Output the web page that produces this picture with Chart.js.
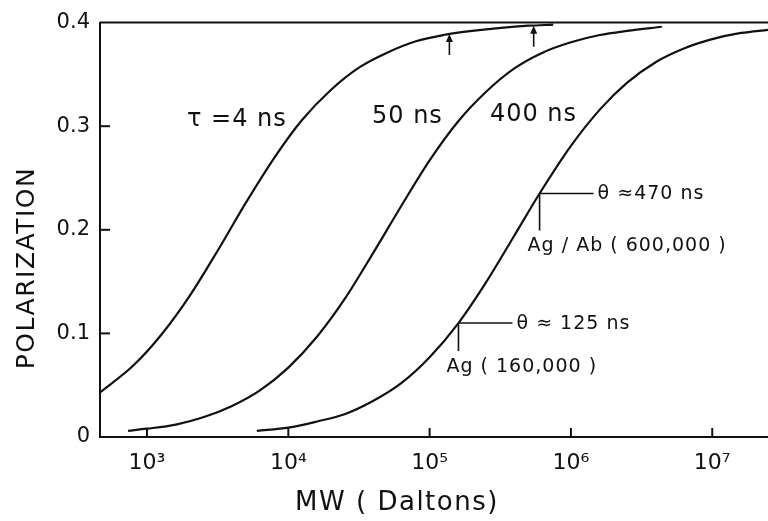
<!DOCTYPE html>
<html>
<head>
<meta charset="utf-8">
<script src="https://cdn.jsdelivr.net/npm/chart.js@4.4.1/dist/chart.umd.min.js"></script>
<style>
  html, body { margin: 0; padding: 0; background: #fff; }
  #wrap { width: 768px; height: 521px; }
</style>
</head>
<body>
<div id="wrap"><canvas id="graph"></canvas></div>
<script>
// Polarization vs molecular weight for three fluorescence lifetimes
const mwTau4 = [465, 800, 1250, 2000, 3200, 5000, 8000, 12500, 20000, 32000, 50000, 80000, 125000, 200000, 320000, 500000, 750000];
const polTau4 = [0.043, 0.069, 0.098, 0.136, 0.181, 0.226, 0.270, 0.306, 0.335, 0.357, 0.371, 0.382, 0.388, 0.392, 0.395, 0.397, 0.398];

const mwTau50 = [735, 1000, 1600, 2500, 4000, 6300, 10000, 16000, 25000, 40000, 63000, 100000, 160000, 250000, 400000, 630000, 1000000, 1600000, 2500000, 4400000];
const polTau50 = [0.006, 0.008, 0.012, 0.019, 0.030, 0.045, 0.067, 0.097, 0.133, 0.178, 0.223, 0.267, 0.305, 0.333, 0.356, 0.371, 0.381, 0.388, 0.392, 0.396];

const mwTau400 = [5990, 10000, 16000, 25000, 40000, 63000, 100000, 160000, 250000, 400000, 600000, 1000000, 1600000, 2500000, 4000000, 6300000, 10000000, 16000000, 24800000];
const polTau400 = [0.006, 0.009, 0.015, 0.022, 0.035, 0.052, 0.077, 0.110, 0.149, 0.195, 0.235, 0.281, 0.316, 0.342, 0.362, 0.375, 0.384, 0.390, 0.393];

const curveNames = ['τ =4 ns', '50 ns', '400 ns'];

// Ag and Ag/Ab complexes on the 400 ns curve
const markerMW = [160000, 600000];
const markerPol = [0.110, 0.235];
const markerRot = ['θ ≈ 125 ns', 'θ ≈470 ns'];
const markerName = ['Ag ( 160,000 )', 'Ag / Ab ( 600,000 )'];

// arrows on the 4 ns curve
const arrowMW = [138000, 545000];
const arrowPol = [0.389, 0.397];

const decades = [1e3, 1e4, 1e5, 1e6, 1e7];
const decadeLabels = ['10³', '10⁴', '10⁵', '10⁶', '10⁷'];
const polTicks = [0, 0.1, 0.2, 0.3, 0.4];

const ink = '#111';
const FONT = '"DejaVu Sans", sans-serif';

function pairs(xs, ys) {
  return xs.map((v, i) => ({ x: v, y: ys[i] }));
}

function curve(label, xs, ys) {
  return {
    label: label,
    data: pairs(xs, ys),
    showLine: true,
    borderColor: ink,
    borderWidth: 2.2,
    pointRadius: 0,
    cubicInterpolationMode: 'monotone',
    fill: false,
  };
}

function seg(ctx, x1, y1, x2, y2) {
  ctx.beginPath();
  ctx.moveTo(x1, y1);
  ctx.lineTo(x2, y2);
  ctx.stroke();
}

function text(ctx, str, px, py, size, spacing, align) {
  ctx.font = size + 'px ' + FONT;
  ctx.letterSpacing = spacing + 'px';
  ctx.textAlign = align || 'left';
  ctx.textBaseline = 'middle';
  ctx.fillText(str, px, py);
}

// frame, inward ticks, arrows, call-outs and axis titles
const decor = {
  id: 'decor',
  afterDatasetsDraw(chart) {
    const { ctx, chartArea: area, scales } = chart;
    const x = scales.x, y = scales.y;
    ctx.save();
    ctx.strokeStyle = ink;
    ctx.fillStyle = ink;
    ctx.lineWidth = 2;

    const top = y.getPixelForValue(0.4);
    seg(ctx, area.left, top, area.right, top);

    polTicks.forEach(v => {
      if (v <= 0 || v >= 0.4) return;
      const py = y.getPixelForValue(v);
      seg(ctx, area.left, py, area.left + 10, py);
    });
    decades.forEach(v => {
      const px = x.getPixelForValue(v);
      seg(ctx, px, area.bottom, px, area.bottom - 9);
    });

    // curve labels
    const labelAt = [[1920, 0.306], [39100, 0.309], [267000, 0.311]];
    curveNames.forEach((s, i) => {
      text(ctx, s, x.getPixelForValue(labelAt[i][0]), y.getPixelForValue(labelAt[i][1]), 24, 1);
    });

    // arrows
    ctx.lineWidth = 1.6;
    arrowMW.forEach((m, i) => {
      const px = x.getPixelForValue(m);
      const py = y.getPixelForValue(arrowPol[i]);
      seg(ctx, px, py + 21, px, py + 3);
      ctx.beginPath();
      ctx.moveTo(px, py);
      ctx.lineTo(px - 3.5, py + 8);
      ctx.lineTo(px + 3.5, py + 8);
      ctx.closePath();
      ctx.fill();
    });

    // call-outs
    const drop = [28, 37];
    markerMW.forEach((m, i) => {
      const px = x.getPixelForValue(m);
      const py = y.getPixelForValue(markerPol[i]);
      seg(ctx, px, py, px + 54, py);
      seg(ctx, px, py, px, py + drop[i]);
      text(ctx, markerRot[i], px + 58, py + 1, 19, 1);
      text(ctx, markerName[i], px - 12, py + drop[i] + 16, 19, 1);
    });

    // axis titles
    text(ctx, 'MW ( Daltons)', 397, 503, 26, 1.5, 'center');
    ctx.translate(27, 268);
    ctx.rotate(-Math.PI / 2);
    text(ctx, 'POLARIZATION', 0, 0, 25, 1.5, 'center');
    ctx.restore();
  }
};

const ctx = document.getElementById('graph').getContext('2d');
const chart = new Chart(ctx, {
  type: 'scatter',
  data: {
    datasets: [
      curve(curveNames[0], mwTau4, polTau4),
      curve(curveNames[1], mwTau50, polTau50),
      curve(curveNames[2], mwTau400, polTau400),
    ],
  },
  options: {
    responsive: true,
    maintainAspectRatio: false,
    animation: false,
    layout: { padding: { top: 17, right: 0, left: 0, bottom: 0 } },
    plugins: {
      legend: { display: false },
      tooltip: { enabled: false },
    },
    scales: {
      x: {
        type: 'logarithmic',
        min: 465,
        max: 24800000,
        afterBuildTicks: scale => {
          scale.ticks = decades.map(v => ({ value: v }));
        },
        afterFit: scale => { scale.height = 84; },
        grid: { display: true, drawOnChartArea: false, drawTicks: false },
        border: { display: true, color: ink, width: 2 },
        ticks: {
          padding: 13,
          color: ink,
          font: { family: FONT, size: 22 },
          maxRotation: 0,
          autoSkip: false,
          callback: v => decadeLabels[decades.indexOf(v)] || '',
        },
      },
      y: {
        min: 0,
        max: 0.4,
        afterBuildTicks: scale => {
          scale.ticks = polTicks.map(v => ({ value: v }));
        },
        afterFit: scale => { scale.width = 100; },
        grid: { display: true, drawOnChartArea: false, drawTicks: false },
        border: { display: true, color: ink, width: 2 },
        ticks: {
          padding: 10,
          color: ink,
          font: { family: FONT, size: 21 },
          callback: v => (v === 0 ? '0' : v.toFixed(1)),
        },
      },
    },
  },
  plugins: [decor],
});
</script>
</body>
</html>
